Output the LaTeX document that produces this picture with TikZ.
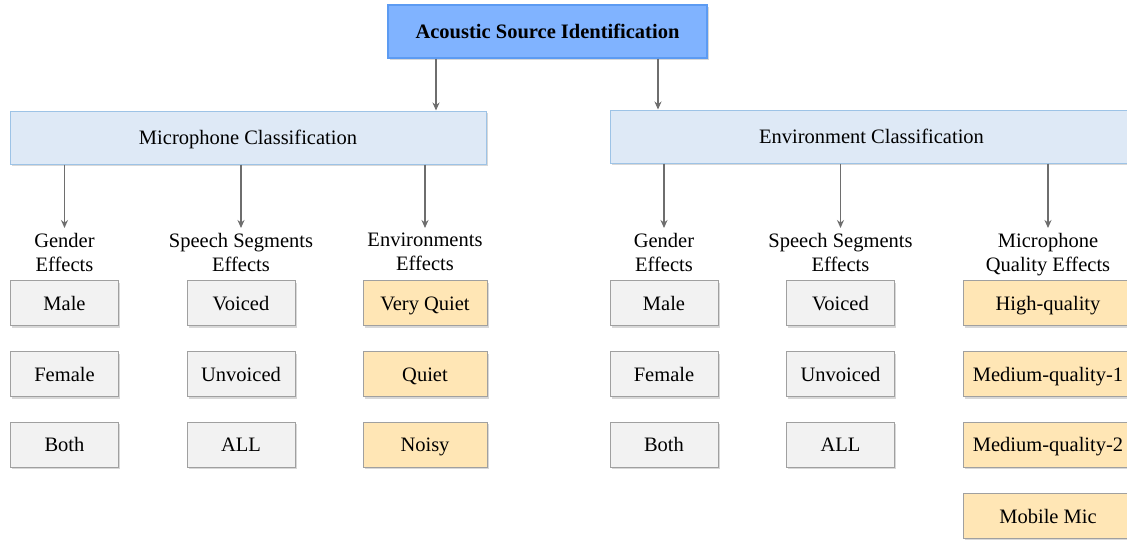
\documentclass[tikz,border=0pt]{standalone}
\usepackage{fontspec}
\setmainfont{Liberation Serif}
\usetikzlibrary{arrows.meta,shadows}
\definecolor{topfill}{HTML}{80B3FF}
\definecolor{topline}{HTML}{5C9BF2}
\definecolor{clsfill}{HTML}{DEE9F6}
\definecolor{clsline}{HTML}{9DC3E6}
\definecolor{grayfill}{HTML}{F2F2F2}
\definecolor{orangefill}{HTML}{FFE6B5}
\definecolor{boxline}{HTML}{A0A0A0}
\definecolor{arrowcol}{HTML}{6E6E6E}
\tikzset{
  txt/.style={font=\fontsize{20.5}{24}\selectfont},
  softshadow/.style={drop shadow={shadow xshift=1.5pt,shadow yshift=-2pt,opacity=0.25,fill=black!60}},
  boxtext/.style={text height=16pt,text depth=2pt},
  topbox/.style={txt,font=\fontsize{20.5}{24}\selectfont\bfseries,boxtext,draw=topline,line width=1.2pt,fill=topfill,
    minimum width=319pt,minimum height=53pt,inner sep=0pt,softshadow},
  clsbox/.style={txt,boxtext,draw=clsline,line width=1pt,fill=clsfill,minimum height=53pt,inner sep=0pt,softshadow},
  leaf/.style={txt,boxtext,draw=boxline,line width=1pt,fill=grayfill,minimum height=45pt,inner sep=0pt,softshadow},
  gleaf/.style={leaf,minimum width=108pt},
  oleaf/.style={leaf,fill=orangefill},
  head/.style={txt,align=center,inner xsep=0pt,inner ysep=5pt,anchor=north},
  arr/.style={draw=arrowcol,line width=1.5pt,-{Stealth[length=8pt,width=7pt]}}
}
\begin{document}
\begin{tikzpicture}[x=1pt,y=-1pt]
\clip (0,0) rectangle (1127,539);
\fill[white] (0,0) rectangle (1127,539);

% root and the two classification branches
\node[topbox] (root) at (547.5,31.5) {Acoustic Source Identification};
\node[clsbox,minimum width=476pt] (mic) at (248,137.5) {Microphone Classification};
\node[clsbox,minimum width=523pt] (env) at (871.5,136.5) {Environment Classification};

\draw[arr] (root.south -| 436,0) -- (mic.north -| 436,0);
\draw[arr] (root.south -| 658,0) -- (env.north -| 658,0);

% microphone classification: column headings
\node[head] (mg) at (64.5,228) {Gender\\Effects};
\node[head] (ms) at (241,228) {Speech Segments\\Effects};
\node[head] (me) at (425,228) {Environments\\Effects};
\draw[arr] (mic.south -| mg) -- (mg.north);
\draw[arr] (mic.south -| ms) -- (ms.north);
\draw[arr] (mic.south -| me) -- (me.north);

% microphone classification: leaves
\node[gleaf] (mg1) at (64.5,303) {Male};
\node[gleaf] (mg2) at (64.5,374) {Female};
\node[gleaf] (mg3) at (64.5,444.5) {Both};
\node[gleaf] (ms1) at (241,303) {Voiced};
\node[gleaf] (ms2) at (241,374) {Unvoiced};
\node[gleaf] (ms3) at (241,444.5) {ALL};
\node[oleaf,minimum width=124pt] (me1) at (425,303) {Very Quiet};
\node[oleaf,minimum width=124pt] (me2) at (425,374) {Quiet};
\node[oleaf,minimum width=124pt] (me3) at (425,444.5) {Noisy};

% environment classification: column headings
\node[head] (eg) at (664,228) {Gender\\Effects};
\node[head] (es) at (840.5,228) {Speech Segments\\Effects};
\node[head] (eq) at (1048,228) {Microphone\\Quality Effects};
\draw[arr] (env.south -| eg) -- (eg.north);
\draw[arr] (env.south -| es) -- (es.north);
\draw[arr] (env.south -| eq) -- (eq.north);

% environment classification: leaves
\node[gleaf] (eg1) at (664,303) {Male};
\node[gleaf] (eg2) at (664,374) {Female};
\node[gleaf] (eg3) at (664,444.5) {Both};
\node[gleaf] (es1) at (840.5,303) {Voiced};
\node[gleaf] (es2) at (840.5,374) {Unvoiced};
\node[gleaf] (es3) at (840.5,444.5) {ALL};
\node[oleaf,minimum width=170pt] (eq1) at (1048,303) {High-quality};
\node[oleaf,minimum width=170pt] (eq2) at (1048,374) {Medium-quality-1};
\node[oleaf,minimum width=170pt] (eq3) at (1048,444.5) {Medium-quality-2};
\node[oleaf,minimum width=170pt] (eq4) at (1048,516) {Mobile Mic};
\end{tikzpicture}
\end{document}
